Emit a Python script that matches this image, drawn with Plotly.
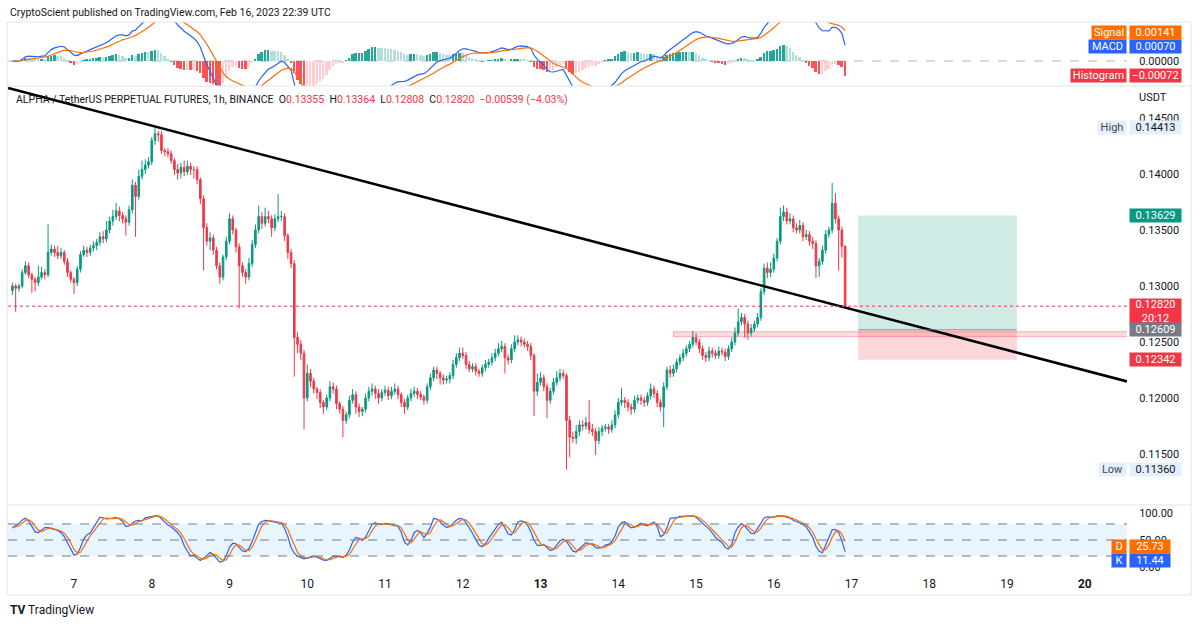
import pandas as pd
import numpy as np
import plotly.graph_objects as go

# ---------------- data ----------------
start_time = "2023-02-06 05:00"
first_open = 0.1296

close_feb06 = [0.1300, 0.1298, 0.1300, 0.1312, 0.1318, 0.1310, 0.1306, 0.1303, 0.1308, 0.1312,
               0.1310, 0.1330, 0.1333, 0.1330, 0.1327, 0.1330, 0.1322, 0.1312, 0.1306]
close_feb07 = [0.1303, 0.1315, 0.1328, 0.1332, 0.1330, 0.1334, 0.1336, 0.1339, 0.1344, 0.1342, 0.1350, 0.1358,
               0.1362, 0.1367, 0.1363, 0.1360, 0.1357, 0.1368, 0.1390, 0.1380, 0.1398, 0.1404, 0.1408, 0.1411]
close_feb08 = [0.1430, 0.1436, 0.1435, 0.1421, 0.1420, 0.1418, 0.1412, 0.1404, 0.1401, 0.1406, 0.1402, 0.1407,
               0.1404, 0.1404, 0.1395, 0.1378, 0.1352, 0.1340, 0.1343, 0.1332, 0.1318, 0.1308, 0.1326, 0.1340]
close_feb09 = [0.1360, 0.1350, 0.1335, 0.1318, 0.1312, 0.1308, 0.1320, 0.1337, 0.1350, 0.1362, 0.1356, 0.1362,
               0.1360, 0.1352, 0.1360, 0.1362, 0.1362, 0.1345, 0.1330, 0.1320, 0.1254, 0.1248, 0.1240, 0.1200]
close_feb10 = [0.1222, 0.1215, 0.1208, 0.1205, 0.1196, 0.1192, 0.1200, 0.1210, 0.1208, 0.1195, 0.1190, 0.1180,
               0.1185, 0.1198, 0.1203, 0.1192, 0.1188, 0.1190, 0.1200, 0.1206, 0.1208, 0.1204, 0.1200, 0.1205]
close_feb11 = [0.1207, 0.1202, 0.1206, 0.1208, 0.1203, 0.1196, 0.1192, 0.1200, 0.1204, 0.1206, 0.1203, 0.1201,
               0.1198, 0.1210, 0.1218, 0.1225, 0.1222, 0.1218, 0.1216, 0.1217, 0.1220, 0.1230, 0.1236, 0.1240]
close_feb12 = [0.1238, 0.1230, 0.1226, 0.1228, 0.1224, 0.1222, 0.1227, 0.1230, 0.1232, 0.1236, 0.1240, 0.1244,
               0.1246, 0.1236, 0.1234, 0.1244, 0.1250, 0.1252, 0.1250, 0.1248, 0.1246, 0.1238, 0.1206, 0.1214]
close_feb13 = [0.1218, 0.1210, 0.1198, 0.1206, 0.1214, 0.1218, 0.1222, 0.1220, 0.1180, 0.1165, 0.1164, 0.1170,
               0.1176, 0.1175, 0.1178, 0.1172, 0.1170, 0.1162, 0.1170, 0.1173, 0.1174, 0.1172, 0.1176, 0.1185]
close_feb14 = [0.1196, 0.1198, 0.1196, 0.1192, 0.1190, 0.1198, 0.1200, 0.1198, 0.1196, 0.1202, 0.1208, 0.1204,
               0.1196, 0.1192, 0.1210, 0.1225, 0.1222, 0.1226, 0.1232, 0.1236, 0.1240, 0.1244, 0.1248, 0.1254]
close_feb15 = [0.1250, 0.1244, 0.1238, 0.1236, 0.1242, 0.1240, 0.1238, 0.1242, 0.1241, 0.1237, 0.1244, 0.1250,
               0.1258, 0.1268, 0.1272, 0.1266, 0.1258, 0.1262, 0.1266, 0.1272, 0.1295, 0.1316, 0.1312, 0.1315]
close_feb16 = [0.1325, 0.1340, 0.1362, 0.1366, 0.1358, 0.1360, 0.1352, 0.1350, 0.1354, 0.1344, 0.1346, 0.1340,
               0.1338, 0.1318, 0.1322, 0.1332, 0.1346, 0.1350, 0.1374, 0.1360, 0.1350, 0.13355, 0.12820]

# upper / lower wick lengths beyond the body, in units of 0.0001
wick_up_feb06 = [3, 2, 2, 3, 4, 3, 2, 2, 10, 5, 3, 25, 4, 3, 6, 4, 2, 3, 2]
wick_dn_feb06 = [4, 21, 3, 2, 2, 3, 12, 8, 3, 2, 4, 2, 3, 4, 3, 3, 3, 4, 3]
wick_up_feb07 = [2, 3, 3, 4, 3, 3, 4, 3, 4, 5, 8, 4, 6, 7, 4, 3, 3, 4, 5, 3, 6, 8, 5, 4]
wick_dn_feb07 = [10, 3, 3, 2, 4, 3, 3, 4, 3, 4, 3, 3, 4, 3, 5, 4, 12, 3, 3, 36, 3, 3, 4, 3]
wick_up_feb08 = [3, 5, 3, 3, 2, 3, 3, 2, 5, 4, 6, 5, 3, 3, 3, 2, 3, 4, 5, 3, 3, 3, 2, 4]
wick_dn_feb08 = [3, 4, 6, 3, 4, 3, 3, 5, 6, 5, 4, 3, 5, 8, 4, 5, 38, 4, 8, 4, 3, 6, 3, 3]
wick_up_feb09 = [5, 3, 2, 3, 3, 3, 5, 4, 5, 10, 4, 8, 5, 3, 4, 20, 5, 3, 2, 3, 3, 5, 4, 3]
wick_dn_feb09 = [3, 4, 5, 38, 4, 6, 3, 3, 3, 3, 5, 3, 4, 8, 3, 3, 4, 5, 6, 4, 35, 8, 6, 28]
wick_up_feb10 = [8, 4, 3, 2, 3, 2, 3, 5, 4, 3, 2, 3, 3, 4, 5, 3, 3, 2, 4, 4, 5, 3, 4, 3]
wick_dn_feb10 = [3, 5, 4, 6, 5, 6, 3, 3, 4, 5, 4, 15, 3, 3, 3, 6, 5, 4, 3, 3, 4, 5, 5, 3]
wick_up_feb11 = [4, 3, 4, 5, 3, 2, 3, 3, 4, 4, 3, 3, 2, 3, 4, 3, 3, 2, 3, 3, 3, 4, 4, 5]
wick_dn_feb11 = [3, 4, 3, 3, 4, 4, 6, 3, 3, 3, 4, 3, 4, 3, 3, 3, 5, 6, 4, 3, 4, 3, 3, 3]
wick_up_feb12 = [5, 3, 3, 3, 3, 2, 3, 4, 3, 4, 4, 5, 5, 3, 3, 4, 6, 4, 3, 3, 3, 3, 2, 8]
wick_dn_feb12 = [3, 4, 3, 3, 4, 3, 3, 3, 3, 3, 3, 3, 3, 14, 4, 3, 3, 3, 4, 3, 4, 4, 22, 4]
wick_up_feb13 = [5, 3, 3, 3, 4, 6, 4, 3, 2, 4, 5, 6, 4, 4, 5, 20, 5, 3, 4, 3, 3, 3, 4, 4]
wick_dn_feb13 = [3, 4, 16, 3, 3, 3, 3, 3, 44, 18, 4, 5, 4, 4, 3, 4, 4, 13, 3, 4, 3, 4, 3, 3]
wick_up_feb14 = [4, 11, 3, 3, 3, 4, 3, 3, 3, 3, 5, 3, 3, 3, 4, 3, 4, 4, 3, 3, 4, 3, 3, 6]
wick_dn_feb14 = [3, 3, 5, 4, 5, 3, 3, 4, 4, 3, 3, 4, 4, 4, 18, 3, 4, 3, 3, 3, 3, 3, 3, 3]
wick_up_feb15 = [4, 3, 3, 3, 4, 3, 3, 4, 3, 3, 3, 4, 5, 12, 4, 3, 3, 4, 3, 4, 3, 4, 5, 6]
wick_dn_feb15 = [3, 4, 4, 4, 3, 4, 3, 3, 3, 4, 3, 3, 3, 3, 3, 12, 6, 3, 3, 3, 3, 3, 5, 4]
wick_up_feb16 = [4, 3, 8, 6, 4, 5, 3, 4, 5, 3, 4, 3, 4, 3, 3, 4, 4, 3, 18, 9, 3, 3, 1]
wick_dn_feb16 = [3, 3, 3, 4, 3, 3, 4, 3, 3, 4, 3, 4, 5, 11, 10, 3, 3, 3, 3, 4, 36, 10, 1]

closes = (close_feb06 + close_feb07 + close_feb08 + close_feb09 + close_feb10 + close_feb11 +
          close_feb12 + close_feb13 + close_feb14 + close_feb15 + close_feb16)
wick_up = (wick_up_feb06 + wick_up_feb07 + wick_up_feb08 + wick_up_feb09 + wick_up_feb10 + wick_up_feb11 +
           wick_up_feb12 + wick_up_feb13 + wick_up_feb14 + wick_up_feb15 + wick_up_feb16)
wick_dn = (wick_dn_feb06 + wick_dn_feb07 + wick_dn_feb08 + wick_dn_feb09 + wick_dn_feb10 + wick_dn_feb11 +
           wick_dn_feb12 + wick_dn_feb13 + wick_dn_feb14 + wick_dn_feb15 + wick_dn_feb16)
assert len(closes) == len(wick_up) == len(wick_dn)

# trend line endpoints, position tool, zone
trend_x = ["2023-02-06 03:40", "2023-02-20 13:00"]
trend_y = [0.14768, 0.12148]
pos_x = ["2023-02-17 02:00", "2023-02-19 03:00"]
pos_entry, pos_target, pos_stop = 0.12609, 0.13629, 0.12342
zone_x = ["2023-02-14 17:00", "2023-02-25 00:00"]
zone_y = [0.12547, 0.12592]
last_price = 0.12820
high_price, low_price = 0.14413, 0.11360

day_ticks = ["2023-02-%02d" % d for d in range(7, 21)]
day_labels = [str(d) for d in range(7, 21)]
day_labels[6] = "<b>13</b>"
day_labels[13] = "<b>20</b>"
price_ticks = [0.115, 0.120, 0.125, 0.130, 0.135, 0.140, 0.145]

macd_labels = [("Signal", "0.00141", 0.00141, "#FF6D00"),
               ("MACD", "0.00070", 0.00070, "#2962FF"),
               ("Histogram", "\u22120.00072", -0.00072, "#F23645")]
stoch_labels = [("D", "25.73", 25.73, "#FF6D00", 6), ("K", "11.44", 11.44, "#2962FF", 0)]

# ---------------- derived ----------------
times = pd.date_range(start_time, periods=len(closes), freq="h")
opens = [first_open] + closes[:-1]
highs = [max(o, c) + u * 1e-4 for o, c, u in zip(opens, closes, wick_up)]
lows = [min(o, c) - d * 1e-4 for o, c, d in zip(opens, closes, wick_dn)]

s = pd.Series(closes)
macd = s.ewm(span=12, adjust=False).mean() - s.ewm(span=26, adjust=False).mean()
signal = macd.ewm(span=9, adjust=False).mean()
hist = macd - signal
hcol = []
prev = 0.0
for h in hist:
    if h >= 0:
        hcol.append("#26A69A" if h >= prev else "#B2DFDB")
    else:
        hcol.append("#FF5252" if h < prev else "#FFCDD2")
    prev = h

hh = pd.Series(highs).rolling(14, min_periods=1).max()
ll = pd.Series(lows).rolling(14, min_periods=1).min()
raw_k = 100 * (s - ll) / (hh - ll)
k_line = raw_k.rolling(3, min_periods=1).mean()
d_line = k_line.rolling(3, min_periods=1).mean()

# ---------------- figure ----------------
W, H = 1200, 624
FONT = "Roboto"
TXT = "#131722"


def py(px):
    return 1 - px / H


fig = go.Figure()

# MACD pane (y)
fig.add_trace(go.Bar(x=times, y=hist, marker_color=hcol, marker_line_width=0,
                     width=0.6 * 3600 * 1000, xaxis="x", yaxis="y", showlegend=False))
fig.add_trace(go.Scatter(x=times, y=macd, mode="lines", line=dict(color="#2962FF", width=1.2),
                         xaxis="x", yaxis="y", showlegend=False))
fig.add_trace(go.Scatter(x=times, y=signal, mode="lines", line=dict(color="#FF6D00", width=1.2),
                         xaxis="x", yaxis="y", showlegend=False))

# Price pane (y2)
fig.add_trace(go.Candlestick(
    x=times, open=opens, high=highs, low=lows, close=closes,
    increasing=dict(line=dict(color="#089981", width=1), fillcolor="#089981"),
    decreasing=dict(line=dict(color="#F23645", width=1), fillcolor="#F23645"),
    whiskerwidth=0, xaxis="x", yaxis="y2", showlegend=False))
fig.add_trace(go.Scatter(x=trend_x, y=trend_y, mode="lines", line=dict(color="#000000", width=2.6),
                         xaxis="x", yaxis="y2", showlegend=False))

# Stoch pane (y3)
fig.add_trace(go.Scatter(x=times, y=k_line, mode="lines", line=dict(color="#2962FF", width=1.2),
                         xaxis="x", yaxis="y3", showlegend=False))
fig.add_trace(go.Scatter(x=times, y=d_line, mode="lines", line=dict(color="#FF6D00", width=1.2),
                         xaxis="x", yaxis="y3", showlegend=False))

shapes = []
# stoch band and levels
shapes.append(dict(type="rect", xref="x domain", yref="y3", x0=0, x1=1, y0=20, y1=80,
                   fillcolor="rgba(33,150,243,0.1)", line_width=0, layer="below"))
for lv in (80, 50, 20):
    shapes.append(dict(type="line", xref="x domain", yref="y3", x0=0, x1=1, y0=lv, y1=lv,
                       line=dict(color="#787B86", width=1, dash="dash")))
# macd zero line
shapes.append(dict(type="line", xref="x domain", yref="y", x0=0, x1=1, y0=0, y1=0,
                   line=dict(color="#B2B5BE", width=1, dash="dash"), layer="below"))
# position tool
shapes.append(dict(type="rect", xref="x", yref="y2", x0=pos_x[0], x1=pos_x[1], y0=pos_entry, y1=pos_target,
                   fillcolor="rgba(8,153,129,0.2)", line_width=0, layer="below"))
shapes.append(dict(type="rect", xref="x", yref="y2", x0=pos_x[0], x1=pos_x[1], y0=pos_stop, y1=pos_entry,
                   fillcolor="rgba(242,54,69,0.2)", line_width=0, layer="below"))
shapes.append(dict(type="line", xref="x", yref="y2", x0=pos_x[0], x1=pos_x[1], y0=pos_entry, y1=pos_entry,
                   line=dict(color="rgba(120,123,134,0.8)", width=1)))
# zone
shapes.append(dict(type="rect", xref="x", yref="y2", x0=zone_x[0], x1=zone_x[1], y0=zone_y[0], y1=zone_y[1],
                   fillcolor="rgba(242,54,69,0.18)", line=dict(color="rgba(242,54,69,0.35)", width=1),
                   layer="below"))
# last price dotted line
shapes.append(dict(type="line", xref="x domain", yref="y2", x0=0, x1=1, y0=last_price, y1=last_price,
                   line=dict(color="#F23645", width=1, dash="dot")))
# frame and pane separators
FR = "#E0E3EB"
shapes.append(dict(type="rect", xref="paper", yref="paper", x0=7 / W, x1=1191 / W, y0=py(595), y1=py(22),
                   line=dict(color=FR, width=1)))
for yy in (86, 505):
    shapes.append(dict(type="line", xref="paper", yref="paper", x0=7 / W, x1=1191 / W, y0=py(yy), y1=py(yy),
                       line=dict(color=FR, width=1)))

ann = []
ann.append(dict(xref="paper", yref="paper", x=8 / W, y=py(12), xanchor="left", yanchor="middle",
                text="CryptoScient published on TradingView.com, Feb 16, 2023 22:39 UTC",
                showarrow=False, font=dict(family=FONT, size=10.5, color=TXT)))
red = "#F23645"
legend_txt = ("ALPHA / TetherUS PERPETUAL FUTURES, 1h, BINANCE  "
              f"O<span style='color:{red}'>0.13355</span>  H<span style='color:{red}'>0.13364</span>  "
              f"L<span style='color:{red}'>0.12808</span>  C<span style='color:{red}'>0.12820</span>  "
              f"<span style='color:{red}'>\u22120.00539 (\u22124.03%)</span>")
ann.append(dict(xref="paper", yref="paper", x=14 / W, y=py(99), xanchor="left", yanchor="middle",
                text=legend_txt, showarrow=False, font=dict(family=FONT, size=10.5, color=TXT)))
ann.append(dict(xref="paper", yref="paper", x=1137 / W, y=py(97), xanchor="left", yanchor="middle",
                text="USDT", showarrow=False, font=dict(family=FONT, size=11, color=TXT)))


def box(yref, y, text, bg, fg, x_left, width, anchor="left", yshift=0, height=13):
    ann.append(dict(xref="paper", yref=yref, x=x_left / W, y=y, xanchor=anchor, yanchor="middle",
                    text=text, showarrow=False, bgcolor=bg, width=width, height=height, borderpad=0,
                    align="center", yshift=yshift, font=dict(family=FONT, size=11, color=fg)))


for name, val, v, col in macd_labels:
    box("y", v, name, col, "white", 1127, {"Signal": 34, "MACD": 37, "Histogram": 55}[name], anchor="right")
    box("y", v, val, col, "white", 1129, 51)

box("y2", high_price, "High", "#E3EFFD", "#434651", 1127, 28, anchor="right")
box("y2", high_price, "0.14413", "#E3EFFD", TXT, 1129, 51)
box("y2", low_price, "Low", "#E3EFFD", "#434651", 1127, 27, anchor="right")
box("y2", low_price, "0.11360", "#E3EFFD", TXT, 1129, 51)
box("y2", pos_target, "0.13629", "#089981", "white", 1129, 51)
box("y2", last_price, "0.12820<br>20:12", "#F23645", "white", 1129, 51, yshift=-5, height=25)
box("y2", pos_entry, "0.12609", "#787B86", "white", 1129, 51)
box("y2", pos_stop, "0.12342", "#F23645", "white", 1129, 51)

for name, val, v, col, sh in stoch_labels:
    box("y3", v, name, col, "white", 1127, 14, anchor="right", yshift=sh)
    box("y3", v, val, col, "white", 1129, 40, yshift=sh)

ann.append(dict(xref="paper", yref="paper", x=8 / W, y=py(610), xanchor="left", yanchor="middle",
                text="<b>TV</b> TradingView", showarrow=False, font=dict(family=FONT, size=12, color=TXT)))

tickfont = dict(family=FONT, size=11, color=TXT)
fig.update_layout(
    width=W, height=H, margin=dict(l=0, r=0, t=0, b=0),
    paper_bgcolor="white", plot_bgcolor="white",
    font=dict(family=FONT, color=TXT),
    bargap=0, hovermode=False,
    shapes=shapes, annotations=ann,
    xaxis=dict(domain=[8 / W, 1127 / W], anchor="y3", type="date",
               range=["2023-02-06 03:38", "2023-02-20 13:00"],
               tickvals=day_ticks, ticktext=day_labels, tickfont=dict(family=FONT, size=12, color=TXT),
               showgrid=False, zeroline=False, showline=False, ticks="",
               rangeslider=dict(visible=False)),
    yaxis=dict(domain=[py(86), py(22)], anchor="x", side="right", range=[-0.00125, 0.00195],
               tickvals=[0.0], ticktext=["0.00000"], tickfont=tickfont, showgrid=False,
               zeroline=False, ticks="outside", ticklen=9, tickcolor="rgba(0,0,0,0)"),
    yaxis2=dict(domain=[py(504), py(86)], anchor="x", side="right", range=[0.110536, 0.14786],
                tickvals=price_ticks, tickformat=".5f", tickfont=tickfont, showgrid=False,
                zeroline=False, ticks="outside", ticklen=9, tickcolor="rgba(0,0,0,0)"),
    yaxis3=dict(domain=[py(575), py(505)], anchor="x", side="right", range=[-15.5, 115.5],
                tickvals=[0, 50, 100], tickformat=".2f", tickfont=tickfont, showgrid=False,
                zeroline=False, ticks="outside", ticklen=9, tickcolor="rgba(0,0,0,0)"),
)

fig.write_html("out.html")
